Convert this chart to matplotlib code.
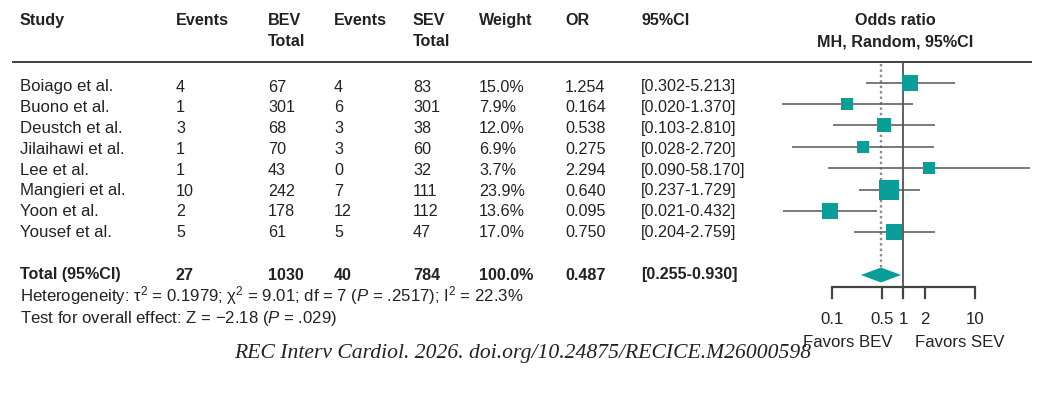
import matplotlib.pyplot as plt
import numpy as np

COLOR_BOX = "#0A9E98"
COLOR_LINE = "#555555"
COLOR_AXIS = "#444444"
COLOR_TEXT = "#222222"

plt.rcParams['font.family'] = ['Liberation Sans', 'DejaVu Sans']
plt.rcParams['mathtext.fontset'] = 'custom'
plt.rcParams['mathtext.rm'] = 'Liberation Sans'
plt.rcParams['mathtext.it'] = 'Liberation Sans:italic'

studies = ['Boiago et al.', 'Buono et al.', 'Deustch et al.', 'Jilaihawi et al.',
           'Lee et al.', 'Mangieri et al.', 'Yoon et al.', 'Yousef et al.']
bev_events = [4, 1, 3, 1, 1, 10, 2, 5]
bev_total = [67, 301, 68, 70, 43, 242, 178, 61]
sev_events = [4, 6, 3, 3, 0, 7, 12, 5]
sev_total = [83, 301, 38, 60, 32, 111, 112, 47]
weights = [15.0, 7.9, 12.0, 6.9, 3.7, 23.9, 13.6, 17.0]
odds = [1.254, 0.164, 0.538, 0.275, 2.294, 0.640, 0.095, 0.750]
ci_low = [0.302, 0.020, 0.103, 0.028, 0.090, 0.237, 0.021, 0.204]
ci_high = [5.213, 1.370, 2.810, 2.720, 58.170, 1.729, 0.432, 2.759]

total_row = ['Total (95%CI)', '27', '1030', '40', '784', '100.0%', '0.487', '[0.255-0.930]']
total_or = 0.487
total_low = 0.255
total_high = 0.930

headers1 = ['Study', 'Events', 'BEV', 'Events', 'SEV', 'Weight', 'OR', '95%CI']
headers2 = ['', '', 'Total', '', 'Total', '', '', '']
axis_ticks = [0.1, 0.5, 1, 2, 10]
axis_ticklabels = ['0.1', '0.5', '1', '2', '10']

W, H = 1046, 400
fig = plt.figure(figsize=(W / 100, H / 100), dpi=100)

# text layer in pixel coordinates
ax = fig.add_axes([0, 0, 1, 1])
ax.set_xlim(0, W)
ax.set_ylim(H, 0)
ax.axis('off')

col_x = [20, 176, 268, 334, 413, 479, 565, 641]
fs = 11.6
fs_name = 12.1

for cx, h1, h2 in zip(col_x, headers1, headers2):
    ax.text(cx, 25, h1, fontsize=fs, fontweight='bold', va='baseline', color=COLOR_TEXT)
    if h2:
        ax.text(cx, 46, h2, fontsize=fs, fontweight='bold', va='baseline', color=COLOR_TEXT)

ax.plot([12, 1032], [62, 62], color=COLOR_TEXT, lw=1.2, solid_capstyle='butt')

for i in range(len(studies)):
    yb = 91.5 + i * 20.8
    row = [studies[i], str(bev_events[i]), str(bev_total[i]), str(sev_events[i]),
           str(sev_total[i]), f'{weights[i]:.1f}%', f'{odds[i]:.3f}',
           f'[{ci_low[i]:.3f}-{ci_high[i]:.3f}]']
    for j, (cx, t) in enumerate(zip(col_x, row)):
        ax.text(cx, yb, t, fontsize=fs_name if j == 0 else fs, va='baseline', color=COLOR_TEXT)

for cx, t in zip(col_x, total_row):
    ax.text(cx, 279.5, t, fontsize=fs, fontweight='bold', va='baseline', color=COLOR_TEXT)

ax.text(20, 301.5, 'Heterogeneity: τ$^2$ = 0.1979; χ$^2$ = 9.01; df = 7 ($P$ = .2517); I$^2$ = 22.3%',
        fontsize=fs_name, va='baseline', color=COLOR_TEXT)
ax.text(20, 322.5, 'Test for overall effect: Z = \u22122.18 ($P$ = .029)',
        fontsize=fs_name, va='baseline', color=COLOR_TEXT)

ax.text(523, 358, 'REC Interv Cardiol. 2026. doi.org/10.24875/RECICE.M26000598',
        fontsize=15.6, family='Liberation Serif', style='italic', ha='center', va='baseline',
        color=COLOR_TEXT)

ax.text(895, 25, 'Odds ratio', fontsize=fs, fontweight='bold', ha='center', va='baseline', color=COLOR_TEXT)
ax.text(895, 46.5, 'MH, Random, 95%CI', fontsize=fs, fontweight='bold', ha='center', va='baseline', color=COLOR_TEXT)

# forest panel: log x axis, pixel y
x_left, x_right = 770, 1040
x_one, px_dec = 903.35, 71.65
fax = fig.add_axes([x_left / W, 0, (x_right - x_left) / W, 1])
fax.set_xscale('log')
fax.set_xlim(10 ** ((x_left - x_one) / px_dec), 10 ** ((x_right - x_one) / px_dec))
fax.set_ylim(H, 0)
fax.axis('off')
fax.patch.set_alpha(0)

# reference lines
fax.plot([1, 1], [62, 297], color=COLOR_AXIS, lw=1.2)
fax.plot([total_or, total_or], [64, 270], color='#8a8a8a', lw=1.7, ls=(0, (1, 1.3)))

for i in range(len(studies)):
    yc = 82.7 + i * 21.37
    fax.plot([ci_low[i], ci_high[i]], [yc, yc], color=COLOR_LINE, lw=1.1, solid_capstyle='butt')
    side_px = 9.5 + 0.42 * weights[i]
    fax.plot(odds[i], yc, marker='s', ms=side_px * 0.72, color=COLOR_BOX, mec=COLOR_BOX, mew=0)

# pooled diamond
yd = 275
fax.fill([total_low, total_or, total_high, total_or], [yd, yd - 7.5, yd, yd + 7.5],
         color=COLOR_BOX, lw=0)

# bottom axis
fax.plot([axis_ticks[0], axis_ticks[-1]], [287, 287], color=COLOR_AXIS, lw=1.6, solid_capstyle='butt')
for t, lab in zip(axis_ticks, axis_ticklabels):
    fax.plot([t, t], [287, 298], color=COLOR_AXIS, lw=1.6)
    fax.text(t, 324, lab, fontsize=fs_name, ha='center', va='baseline', color=COLOR_TEXT)
fax.text(10 ** ((848 - x_one) / px_dec), 347, 'Favors BEV', fontsize=fs_name, ha='center', va='baseline', color=COLOR_TEXT)
fax.text(10 ** ((960 - x_one) / px_dec), 347, 'Favors SEV', fontsize=fs_name, ha='center', va='baseline', color=COLOR_TEXT)

fig.savefig('out.png', dpi=100)
